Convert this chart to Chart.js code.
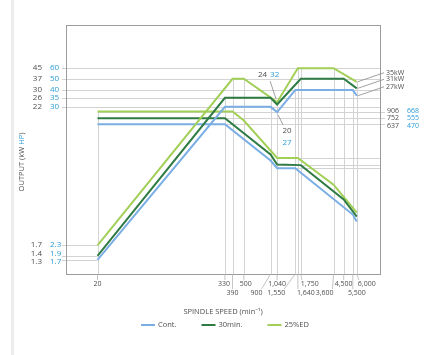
<!DOCTYPE html>
<html>
<head>
<meta charset="utf-8">
<script src="https://cdn.jsdelivr.net/npm/chart.js@4.4.1/dist/chart.umd.min.js"></script>
<style>
  html, body { margin: 0; padding: 0; background: #fff; }
  canvas { display: block; }
</style>
</head>
<body>
<canvas id="chart" width="430" height="355"></canvas>
<script>
// ---------- data ----------
// spindle speed breakpoints (min-1) shown on the speed axis
const speedTicks    = [20, 330, 390, 500, 900, 1040, 1550, 1640, 1750, 3600, 4500, 5500, 6000];
const speedTickText = ['20', '330', '390', '500', '900', '1,040', '1,550', '1,640', '1,750', '3,600', '4,500', '5,500', '6,000'];

const seriesNames = ['Cont.', '30min.', '25%ED'];

// output (kW) against spindle speed
const contSpeed  = [20, 330, 900, 1040, 1550, 5500, 6000];
const contKw     = [1.3, 22, 22, 20, 30, 30, 27];
const min30Speed = [20, 330, 900, 1040, 1750, 4500, 6000];
const min30Kw    = [1.4, 26, 26, 23, 37, 37, 31];
const ed25Speed  = [20, 390, 500, 1040, 1640, 3600, 6000];
const ed25Kw     = [1.7, 37, 37, 24, 45, 45, 35];

// torque (N·m) at the same breakpoints
const contNm  = [637, 637, 233, 188, 188, 52, 43];
const min30Nm = [752, 752, 276, 208, 205, 79, 49];
const ed25Nm  = [906, 906, 707, 250, 250, 119, 55];

// axis value labels
const outputKwTicks   = [45, 37, 30, 26, 22, 1.7, 1.4, 1.3];
const outputHpTicks   = ['60', '50', '40', '35', '30', '2.3', '1.9', '1.7'];
const torqueNmTicks   = [906, 752, 637];
const torqueFtlbTicks = ['668', '555', '470'];
const torqueStepNm    = [250, 205, 188];
const topSpeedKw      = [35, 31, 27];
const dipSpeed        = 1040;
const dipKw           = [24, 20];
const dipHp           = ['32', '27'];
// value each drop line rises to (first one in N·m, the rest in kW)
const dropTop = [906, 26, 37, 37, 26, 24, 30, 45, 45, 45, 37, 30, 35];

// ---------- look ----------
const ink = '#4f4f4f';
const hpBlue = '#2b9bd6';
const guide = '#d3d3d3';
const frame = '#9c9c9c';
const lineColors = ['#7aaee4', '#2f7b44', '#a2cf57'];
const family = '"Open Sans", "Noto Sans", "DejaVu Sans", sans-serif';
const font = px => px + 'px ' + family;

// speed label layout: row (0 upper, 1 lower) and sideways nudge in px
const tickRow   = [0, 0, 1, 0, 1, 0, 1, 1, 0, 1, 0, 1, 0];
const tickNudge = [0, -1, 0, 2, -14, 0, -19, 8, 9, -9, 0, 4, 10];

function spread(ys, gap) {
  const out = ys.slice();
  for (let it = 0; it < 60; it++) {
    let moved = false;
    for (let i = 1; i < out.length; i++) {
      const d = out[i] - out[i - 1];
      if (d < gap - 0.01) {
        const push = (gap - d) / 2;
        out[i - 1] -= push; out[i] += push; moved = true;
      }
    }
    if (!moved) break;
  }
  return out;
}

const decorations = {
  id: 'decorations',
  beforeDraw(chart) {
    const { ctx } = chart;
    ctx.save();
    ctx.fillStyle = '#ededed';
    ctx.fillRect(11, 0, 3, chart.height);
    ctx.restore();
  },
  beforeDatasetsDraw(chart) {
    const { ctx, chartArea: a, scales: { x, y, yT } } = chart;
    const snap = v => Math.round(v) + 0.5;
    const seg = (x0, y0, x1, y1) => { ctx.beginPath(); ctx.moveTo(x0, y0); ctx.lineTo(x1, y1); ctx.stroke(); };
    const x20 = x.getPixelForValue(speedTicks[0]);
    ctx.save();
    ctx.lineWidth = 1;
    ctx.strokeStyle = guide;
    outputKwTicks.forEach(v => {
      const py = snap(y.getPixelForValue(v));
      seg(a.left - 4, py, v < 10 ? x20 : a.right, py);
    });
    torqueNmTicks.forEach(v => {
      const py = snap(yT.getPixelForValue(v));
      seg(x20, py, a.right + 5, py);
    });
    const xDip = x.getPixelForValue(dipSpeed);
    torqueStepNm.forEach(v => {
      const py = snap(yT.getPixelForValue(v));
      seg(xDip, py, a.right, py);
    });
    speedTicks.forEach((s, i) => {
      const px = snap(x.getPixelForValue(s));
      const top = (i === 0 ? yT : y).getPixelForValue(dropTop[i]);
      seg(px, top, px, a.bottom);
    });
    ctx.strokeStyle = frame;
    ctx.strokeRect(snap(a.left), snap(a.top), Math.round(a.right - a.left), Math.round(a.bottom - a.top));
    ctx.restore();
  },
  afterDraw(chart) {
    const { ctx, chartArea: a, scales: { x, y, yT } } = chart;
    ctx.save();
    ctx.textBaseline = 'middle';

    // output labels on the left: kW and HP
    ctx.font = font(8);
    const leftY = spread(outputKwTicks.map(v => y.getPixelForValue(v)), 8.5);
    outputKwTicks.forEach((v, i) => {
      ctx.fillStyle = ink; ctx.textAlign = 'right';
      ctx.fillText(String(v), a.left - 24, leftY[i]);
      ctx.fillStyle = hpBlue; ctx.textAlign = 'left';
      ctx.fillText(outputHpTicks[i], a.left - 16, leftY[i]);
    });

    // torque labels on the right: N·m and ft·lbf
    ctx.font = font(7);
    const rightY = spread(torqueNmTicks.map(v => yT.getPixelForValue(v)), 7.5);
    torqueNmTicks.forEach((v, i) => {
      ctx.fillStyle = ink; ctx.textAlign = 'left';
      ctx.fillText(String(v), a.right + 7, rightY[i]);
      ctx.fillStyle = hpBlue;
      ctx.fillText(torqueFtlbTicks[i], a.right + 27, rightY[i]);
    });

    // maximum-speed output labels with leaders
    ctx.strokeStyle = '#8a8a8a'; ctx.lineWidth = 0.8;
    const xEnd = x.getPixelForValue(speedTicks[speedTicks.length - 1]);
    topSpeedKw.forEach(v => {
      const py = y.getPixelForValue(v);
      const ly = py - 9;
      ctx.beginPath(); ctx.moveTo(xEnd + 1, py); ctx.lineTo(a.right + 4, ly); ctx.stroke();
      ctx.fillStyle = ink; ctx.textAlign = 'left';
      ctx.fillText(v + 'kW', a.right + 6, ly);
    });

    // labels at the output dip
    ctx.font = font(8);
    const xd = x.getPixelForValue(dipSpeed);
    const yUp = y.getPixelForValue(dipKw[0]);
    ctx.beginPath(); ctx.moveTo(xd - 1, yUp - 3); ctx.lineTo(xd - 7, yUp - 21); ctx.stroke();
    ctx.textAlign = 'right'; ctx.fillStyle = ink;
    ctx.fillText(String(dipKw[0]), xd - 10, yUp - 27);
    ctx.textAlign = 'left'; ctx.fillStyle = hpBlue;
    ctx.fillText(dipHp[0], xd - 7, yUp - 27);
    const yDn = y.getPixelForValue(dipKw[1]);
    ctx.beginPath(); ctx.moveTo(xd + 1, yDn + 3); ctx.lineTo(xd + 6, yDn + 13); ctx.stroke();
    ctx.textAlign = 'center'; ctx.fillStyle = ink;
    ctx.fillText(String(dipKw[1]), xd + 10, yDn + 19);
    ctx.fillStyle = hpBlue;
    ctx.fillText(dipHp[1], xd + 10, yDn + 31);

    // speed labels in two rows with leaders
    ctx.font = font(7);
    ctx.strokeStyle = '#b5b5b5'; ctx.lineWidth = 0.8;
    const rowMid = [a.bottom + 10, a.bottom + 19];
    speedTicks.forEach((s, i) => {
      const tx = x.getPixelForValue(s);
      const lx = tx + tickNudge[i];
      const w = ctx.measureText(speedTickText[i]).width;
      const top = rowMid[tickRow[i]] - 4;
      const ex = Math.min(Math.max(tx, lx - w / 2 + 1), lx + w / 2 - 1);
      ctx.beginPath(); ctx.moveTo(tx, a.bottom); ctx.lineTo(ex, top); ctx.stroke();
      ctx.fillStyle = ink; ctx.textAlign = 'center';
      ctx.fillText(speedTickText[i], lx, rowMid[tickRow[i]]);
    });

    // axis titles
    ctx.font = font(7.5);
    ctx.fillStyle = ink; ctx.textAlign = 'center';
    ctx.fillText('SPINDLE SPEED (min\u207B\u00B9)', (a.left + a.right) / 2, 312);

    ctx.save();
    ctx.translate(22, 162);
    ctx.rotate(-Math.PI / 2);
    const parts = [['OUTPUT (kW ', ink], ['HP', hpBlue], [')', ink]];
    const total = parts.reduce((t, p) => t + ctx.measureText(p[0]).width, 0);
    let cx = -total / 2;
    ctx.textAlign = 'left';
    parts.forEach(([t, c]) => { ctx.fillStyle = c; ctx.fillText(t, cx, 0); cx += ctx.measureText(t).width; });
    ctx.restore();

    // legend
    ctx.font = font(7.5);
    let lx = 141;
    const ly = 325;
    seriesNames.forEach((name, i) => {
      ctx.strokeStyle = lineColors[i]; ctx.lineWidth = 2;
      ctx.beginPath(); ctx.moveTo(lx, ly); ctx.lineTo(lx + 14, ly); ctx.stroke();
      ctx.fillStyle = ink; ctx.textAlign = 'left';
      ctx.fillText(name, lx + 17, ly);
      lx += 17 + ctx.measureText(name).width + 25;
    });
    ctx.restore();
  }
};

const makeSet = (label, speeds, vals, axis, color) => ({
  label,
  data: speeds.map((s, i) => ({ x: s, y: vals[i] })),
  yAxisID: axis,
  borderColor: color,
  backgroundColor: color,
  borderWidth: 2,
  pointRadius: 0,
  tension: 0,
  fill: false
});

new Chart(document.getElementById('chart'), {
  type: 'line',
  data: {
    datasets: [
      makeSet(seriesNames[0], contSpeed, contKw, 'y', lineColors[0]),
      makeSet(seriesNames[1], min30Speed, min30Kw, 'y', lineColors[1]),
      makeSet(seriesNames[2], ed25Speed, ed25Kw, 'y', lineColors[2]),
      makeSet(seriesNames[0] + ' torque', contSpeed, contNm, 'yT', lineColors[0]),
      makeSet(seriesNames[1] + ' torque', min30Speed, min30Nm, 'yT', lineColors[1]),
      makeSet(seriesNames[2] + ' torque', ed25Speed, ed25Nm, 'yT', lineColors[2])
    ]
  },
  options: {
    responsive: false,
    animation: false,
    devicePixelRatio: 1,
    parsing: true,
    layout: { padding: { left: 66, top: 25, right: 50, bottom: 81 } },
    plugins: { legend: { display: false }, tooltip: { enabled: false } },
    scales: {
      x:  { type: 'logarithmic', min: 10, max: 10000, display: false },
      y:  { type: 'logarithmic', min: 1, max: 100, display: false },
      yT: { type: 'logarithmic', min: 10, max: 10000, display: false }
    }
  },
  plugins: [decorations]
});
</script>
</body>
</html>
